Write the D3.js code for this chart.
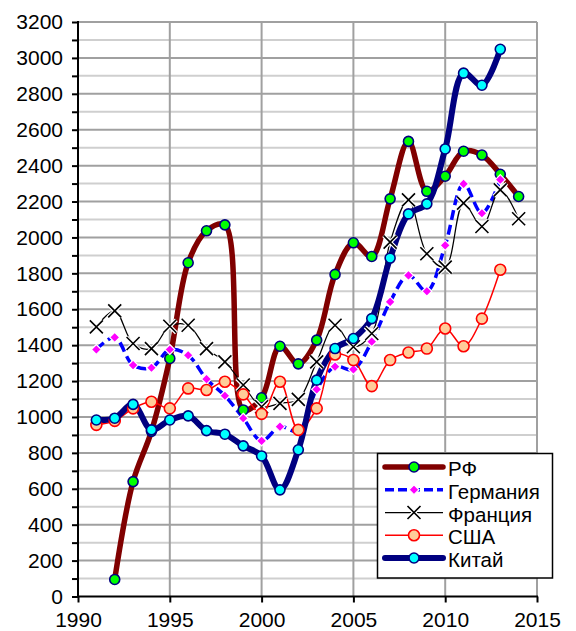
<!DOCTYPE html>
<html>
<head>
<meta charset="utf-8">
<script src="https://cdn.jsdelivr.net/npm/d3@7"></script>
<style>
  body { margin: 0; background: white; }
  svg { display: block; font-family: "Liberation Sans", Arial, sans-serif; }
</style>
</head>
<body>
<div id="chart"></div>
<script>
const width = 576;
const height = 631;
const plotLeft = 78;
const plotRight = 537;
const plotTop = 22;
const plotBottom = 596.5;

const years = [1991, 1992, 1993, 1994, 1995, 1996, 1997, 1998, 1999, 2000, 2001, 2002,
  2003, 2004, 2005, 2006, 2007, 2008, 2009, 2010, 2011, 2012, 2013, 2014];
const rfValues = [null, 95, 640, 920, 1326, 1859, 2037, 2070, 1039, 1107, 1394, 1296,
  1428, 1794, 1970, 1894, 2215, 2535, 2257, 2341, 2480, 2459, 2352, 2228];
const germanyValues = [1376, 1443, 1289, 1274, 1376, 1344, 1211, 1118, 993, 867, 946, 920,
  1154, 1280, 1265, 1420, 1641, 1789, 1700, 1956, 2298, 2135, 2322, null];
const franceValues = [1502, 1591, 1409, 1381, 1505, 1511, 1381, 1307, 1178, 1057, 1076, 1098,
  1307, 1511, 1391, 1465, 1974, 2209, 1909, 1835, 2191, 2061, 2265, 2104];
const usaValues = [956, 978, 1048, 1085, 1048, 1159, 1150, 1196, 1126, 1017, 1196, 928,
  1048, 1348, 1317, 1172, 1317, 1359, 1381, 1493, 1394, 1548, 1820, null];
const chinaValues = [983, 993, 1070, 928, 983, 1006, 924, 904, 839, 783, 594, 817,
  1205, 1381, 1437, 1548, 1885, 2131, 2187, 2493, 2915, 2848, 3048, null];

const xTicks = [1990, 1995, 2000, 2005, 2010, 2015];
const yTicks = d3.range(0, 3201, 200);
const yMinorTicks = d3.range(100, 3200, 200);

const series = [
  { title: "РФ", values: rfValues, stroke: "#800000", width: 5.5, marker: "circle", fill: "#00ff00", markerStroke: "#000080" },
  { title: "Германия", values: germanyValues, stroke: "#0000ff", width: 3.5, dash: "10 5", marker: "diamond", fill: "#ff00ff", markerStroke: "white" },
  { title: "Франция", values: franceValues, stroke: "black", width: 1.25, marker: "cross" },
  { title: "США", values: usaValues, stroke: "#ff0000", width: 1.5, marker: "circle", fill: "#ffcc99", markerStroke: "#ff0000", r: 5.5 },
  { title: "Китай", values: chinaValues, stroke: "#000080", width: 6, marker: "circle", fill: "#00ffff", markerStroke: "#000080" }
];

const x = d3.scaleLinear([1990, 2015], [plotLeft, plotRight]);
const y = d3.scaleLinear([0, 3200], [plotBottom, plotTop]);

const svg = d3.select("#chart").append("svg")
  .attr("width", width)
  .attr("height", height);

const grid = selection => {
  selection.append("g")
    .selectAll("line")
    .data(yMinorTicks)
    .join("line")
    .attr("x1", plotLeft).attr("x2", plotRight)
    .attr("y1", d => y(d)).attr("y2", d => y(d))
    .attr("stroke", "#cfcfcf")
    .attr("stroke-width", 2);
  selection.append("g")
    .selectAll("line")
    .data(yTicks.slice(1))
    .join("line")
    .attr("x1", plotLeft).attr("x2", plotRight)
    .attr("y1", d => y(d)).attr("y2", d => y(d))
    .attr("stroke", "#a0a0a0")
    .attr("stroke-width", 2);
  selection.append("g")
    .selectAll("line")
    .data(xTicks.slice(1))
    .join("line")
    .attr("x1", d => x(d)).attr("x2", d => x(d))
    .attr("y1", plotTop).attr("y2", plotBottom)
    .attr("stroke", "#a0a0a0")
    .attr("stroke-width", 2);
}

const axes = selection => {
  let yAxis = d3.axisLeft(y)
    .tickValues(d3.range(0, 3201, 100))
    .tickFormat(d => d % 200 === 0 ? d : "")
    .tickSize(6)
    .tickPadding(9);
  let gy = selection.append("g")
    .attr("transform", `translate(${plotLeft},0)`)
    .call(yAxis);
  let xAxis = d3.axisBottom(x)
    .tickValues(xTicks)
    .tickFormat(d3.format("d"))
    .tickSize(6)
    .tickPadding(10);
  let gx = selection.append("g")
    .attr("transform", `translate(0,${plotBottom})`)
    .call(xAxis);
  [gx, gy].forEach(g => {
    g.select(".domain").remove();
    g.selectAll("line").attr("stroke", "black").attr("stroke-width", 2);
    g.selectAll("text")
      .attr("fill", "black")
      .style("font-size", "21px")
      .style("font-family", "'Liberation Sans', Arial, sans-serif");
  });
  selection.append("line")
    .attr("x1", plotLeft).attr("x2", plotLeft)
    .attr("y1", plotTop - 1).attr("y2", plotBottom + 1)
    .attr("stroke", "black").attr("stroke-width", 2);
  selection.append("line")
    .attr("x1", plotLeft - 1).attr("x2", plotRight + 1)
    .attr("y1", plotBottom).attr("y2", plotBottom)
    .attr("stroke", "black").attr("stroke-width", 2);
}

const drawMarker = (g, s, cx, cy) => {
  if (s.marker === "circle") {
    g.append("circle")
      .attr("cx", cx).attr("cy", cy)
      .attr("r", s.r || 5)
      .attr("fill", s.fill)
      .attr("stroke", s.markerStroke)
      .attr("stroke-width", 1.6);
  } else if (s.marker === "diamond") {
    let r = 5;
    g.append("path")
      .attr("d", `M${cx},${cy - r}L${cx + r},${cy}L${cx},${cy + r}L${cx - r},${cy}Z`)
      .attr("fill", s.fill)
      .attr("stroke", s.markerStroke)
      .attr("stroke-width", 1.2);
  } else {
    let r = 6.5;
    let d = `M${cx - r},${cy - r}L${cx + r},${cy + r}M${cx - r},${cy + r}L${cx + r},${cy - r}`;
    g.append("path").attr("d", d).attr("stroke", "white").attr("stroke-width", 4);
    g.append("path").attr("d", d).attr("stroke", "black").attr("stroke-width", 1.6);
  }
}

const points = s => years
  .map((yr, i) => ({ year: yr, value: s.values[i] }))
  .filter(p => p.value !== null);

const lines = selection => {
  let line = d3.line()
    .x(p => x(p.year))
    .y(p => y(p.value))
    .curve(d3.curveCatmullRom.alpha(0.5));
  selection.append("g")
    .selectAll("path")
    .data(series)
    .join("path")
    .attr("fill", "none")
    .attr("stroke", s => s.stroke)
    .attr("stroke-width", s => s.width)
    .attr("stroke-dasharray", s => s.dash || null)
    .attr("stroke-linejoin", "round")
    .attr("d", s => line(points(s)));
  series.forEach(s => {
    let g = selection.append("g");
    points(s).forEach(p => drawMarker(g, s, x(p.year), y(p.value)));
  });
}

// legend rows, evenly spaced inside the box
const legendTop = 467;
const legendStep = 22.75;

const legend = selection => {
  let g = selection.append("g");
  g.append("rect")
    .attr("x", 377.5).attr("y", 453.5)
    .attr("width", 175).attr("height", 124.5)
    .attr("fill", "white")
    .attr("stroke", "black")
    .attr("stroke-width", 1.5);
  series.forEach((s, i) => {
    let cy = legendTop + i * legendStep;
    g.append("line")
      .attr("x1", 385).attr("x2", 443)
      .attr("y1", cy).attr("y2", cy)
      .attr("stroke", s.stroke)
      .attr("stroke-width", s.width)
      .attr("stroke-dasharray", s.dash ? "9 4" : null)
      .attr("stroke-linecap", s.width > 4 ? "round" : "butt");
    drawMarker(g, s, 414, cy);
    g.append("text")
      .attr("x", 448)
      .attr("y", cy + 9)
      .style("font-size", "20.5px")
      .text(s.title);
  });
}

svg.call(grid).call(lines).call(axes).call(legend);
</script>
</body>
</html>
